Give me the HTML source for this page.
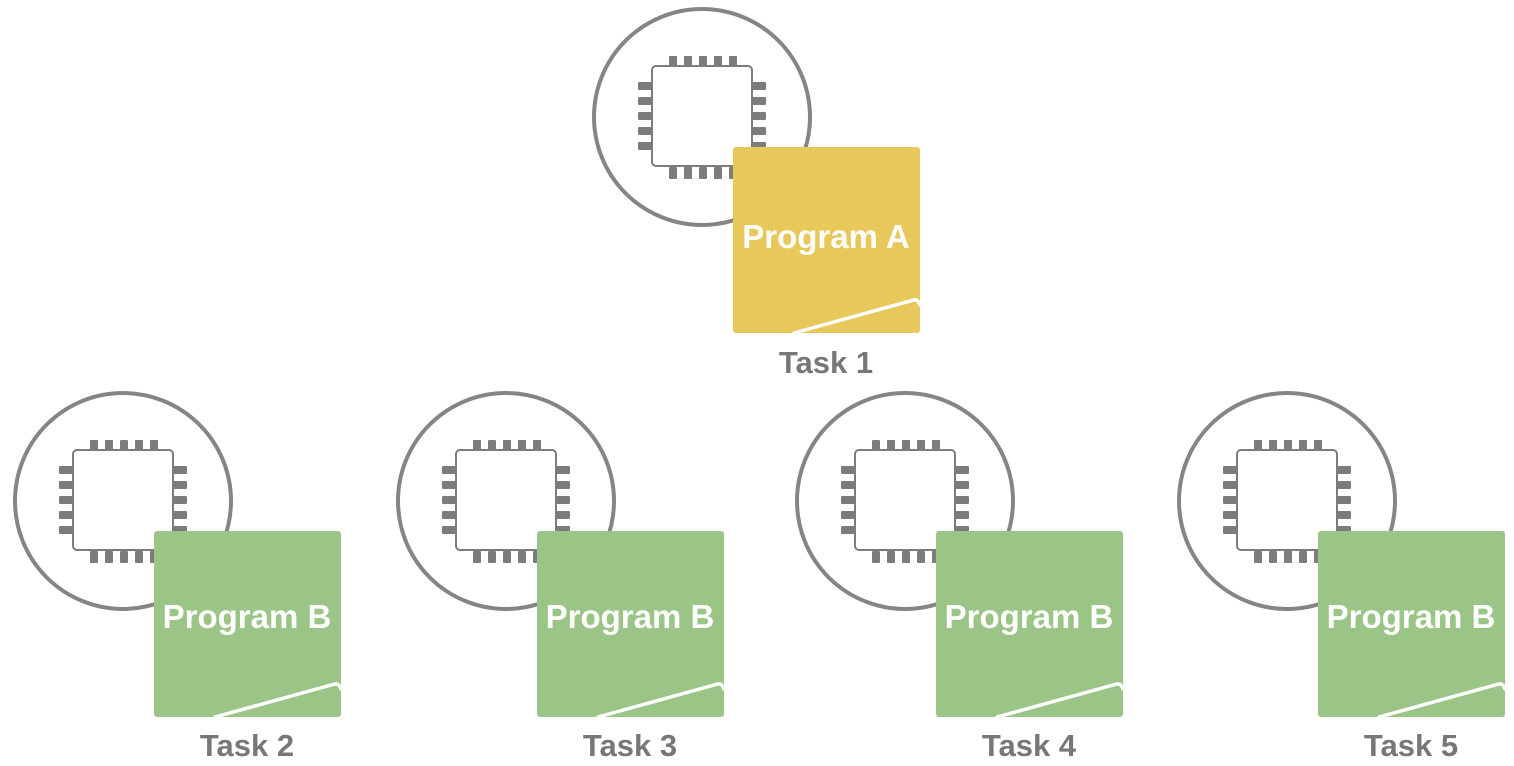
<!DOCTYPE html>
<html><head><meta charset="utf-8"><style>
html,body{margin:0;padding:0;background:#fff;}
svg{display:block;}
text{font-family:"Liberation Sans",sans-serif;font-weight:bold;}
</style></head><body>
<svg width="1514" height="766" viewBox="0 0 1514 766" xmlns="http://www.w3.org/2000/svg">
<defs>
<g id="chip">
  <circle cx="0" cy="0" r="108" fill="none" stroke="#858585" stroke-width="4"/>
  <g fill="#7c7c7c">
    <rect x="-33" y="-61" width="8" height="12" rx="1"/><rect x="-18" y="-61" width="8" height="12" rx="1"/><rect x="-3" y="-61" width="8" height="12" rx="1"/><rect x="12" y="-61" width="8" height="12" rx="1"/><rect x="27" y="-61" width="8" height="12" rx="1"/>
    <rect x="-33" y="50" width="8" height="12" rx="1"/><rect x="-18" y="50" width="8" height="12" rx="1"/><rect x="-3" y="50" width="8" height="12" rx="1"/><rect x="12" y="50" width="8" height="12" rx="1"/><rect x="27" y="50" width="8" height="12" rx="1"/>
    <rect x="-64" y="-35" width="14" height="8" rx="1"/><rect x="-64" y="-20" width="14" height="8" rx="1"/><rect x="-64" y="-5" width="14" height="8" rx="1"/><rect x="-64" y="10" width="14" height="8" rx="1"/><rect x="-64" y="25" width="14" height="8" rx="1"/>
    <rect x="50" y="-35" width="14" height="8" rx="1"/><rect x="50" y="-20" width="14" height="8" rx="1"/><rect x="50" y="-5" width="14" height="8" rx="1"/><rect x="50" y="10" width="14" height="8" rx="1"/><rect x="50" y="25" width="14" height="8" rx="1"/>
  </g>
  <rect x="-50" y="-51" width="100" height="100" rx="4" fill="#fff" stroke="#7c7c7c" stroke-width="2"/>
</g>
<path id="curl" d="M92 216 L212 183 Q216 182 218 188" fill="none" stroke="#fff" stroke-width="3.5" stroke-linecap="round"/>
</defs>

<g transform="translate(702,117)">
  <use href="#chip"/>
  <rect x="31" y="30" width="187" height="186" rx="3" fill="#e8c85a"/>
  <use href="#curl"/>
  <text x="124" y="131" font-size="33" fill="#fff" text-anchor="middle">Program A</text>
  <text x="124" y="256" font-size="31" fill="#777" text-anchor="middle">Task 1</text>
</g>

<g transform="translate(123,501)">
  <use href="#chip"/>
  <rect x="31" y="30" width="187" height="186" rx="3" fill="#9bc587"/>
  <use href="#curl"/>
  <text x="124" y="127" font-size="33" fill="#fff" text-anchor="middle">Program B</text>
  <text x="124" y="255" font-size="31" fill="#777" text-anchor="middle">Task 2</text>
</g>
<g transform="translate(506,501)">
  <use href="#chip"/>
  <rect x="31" y="30" width="187" height="186" rx="3" fill="#9bc587"/>
  <use href="#curl"/>
  <text x="124" y="127" font-size="33" fill="#fff" text-anchor="middle">Program B</text>
  <text x="124" y="255" font-size="31" fill="#777" text-anchor="middle">Task 3</text>
</g>
<g transform="translate(905,501)">
  <use href="#chip"/>
  <rect x="31" y="30" width="187" height="186" rx="3" fill="#9bc587"/>
  <use href="#curl"/>
  <text x="124" y="127" font-size="33" fill="#fff" text-anchor="middle">Program B</text>
  <text x="124" y="255" font-size="31" fill="#777" text-anchor="middle">Task 4</text>
</g>
<g transform="translate(1287,501)">
  <use href="#chip"/>
  <rect x="31" y="30" width="187" height="186" rx="3" fill="#9bc587"/>
  <use href="#curl"/>
  <text x="124" y="127" font-size="33" fill="#fff" text-anchor="middle">Program B</text>
  <text x="124" y="255" font-size="31" fill="#777" text-anchor="middle">Task 5</text>
</g>
</svg>
</body></html>
